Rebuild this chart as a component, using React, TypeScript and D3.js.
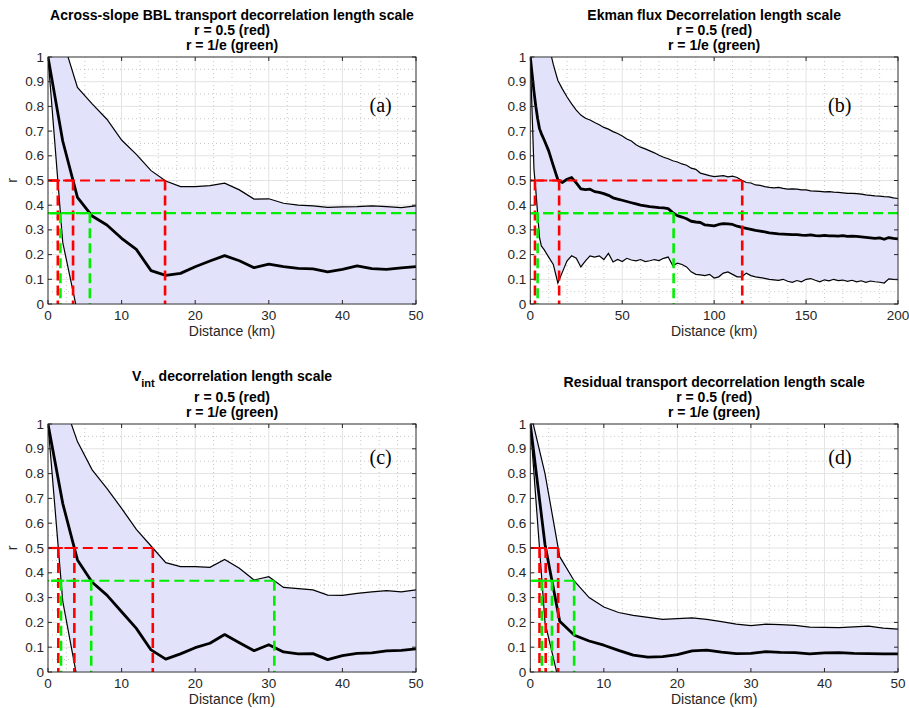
import React from "react";
import * as d3 from "d3";

const SANS = "'Liberation Sans', Arial, Helvetica, sans-serif";
const SERIF = "'Liberation Serif', 'Times New Roman', serif";

// ---- Panel (a): across-slope BBL transport, 2 km lag steps ----
const distA = [0, 2, 4, 6, 8, 10, 12, 14, 16, 18, 20, 22, 24, 26, 28, 30, 32, 34, 36, 38, 40, 42, 44, 46, 48, 50];
const meanA = [1.0, 0.66, 0.432, 0.356, 0.32, 0.266, 0.221, 0.135, 0.116, 0.124, 0.151, 0.174, 0.196, 0.175, 0.147, 0.161, 0.151, 0.144, 0.142, 0.13, 0.14, 0.154, 0.143, 0.14, 0.146, 0.151];
const upperA = [1.4, 1.07, 0.877, 0.81, 0.748, 0.664, 0.606, 0.54, 0.498, 0.475, 0.475, 0.479, 0.489, 0.462, 0.425, 0.426, 0.408, 0.4, 0.397, 0.391, 0.393, 0.394, 0.397, 0.394, 0.39, 0.397];
// lower bound falls below r = 0 after 4 km
const lowerA = [1.0, 0.25, -0.034];

// ---- Panel (b): Ekman flux ----
const distB = [0, 1, 2, 3, 4, 5, 6, 7.5, 10, 12.5, 15, 17.5, 20, 22.5, 25, 27.5, 30, 32.5, 35, 37.5, 40, 42.5, 45, 47.5, 50, 52.5, 55, 57.5, 60, 62.5, 65, 67.5, 70, 72.5, 75, 77.5, 80, 82.5, 85, 87.5, 90, 92.5, 95, 97.5, 100, 102.5, 105, 107.5, 110, 112.5, 115, 117.5, 120, 122.5, 125, 127.5, 130, 132.5, 135, 137.5, 140, 142.5, 145, 147.5, 150, 152.5, 155, 157.5, 160, 162.5, 165, 167.5, 170, 172.5, 175, 177.5, 180, 182.5, 185, 187.5, 190, 192.5, 195, 197.5, 200];
const meanB = [1.0, 0.93, 0.86, 0.8, 0.75, 0.71, 0.69, 0.665, 0.62, 0.56, 0.503, 0.492, 0.505, 0.512, 0.49, 0.466, 0.463, 0.465, 0.455, 0.452, 0.447, 0.44, 0.43, 0.425, 0.42, 0.415, 0.41, 0.405, 0.4, 0.397, 0.394, 0.392, 0.39, 0.389, 0.386, 0.37, 0.358, 0.352, 0.345, 0.335, 0.332, 0.33, 0.32, 0.318, 0.316, 0.322, 0.325, 0.324, 0.322, 0.315, 0.31, 0.306, 0.302, 0.298, 0.295, 0.292, 0.288, 0.286, 0.284, 0.283, 0.282, 0.281, 0.281, 0.279, 0.278, 0.28, 0.277, 0.276, 0.278, 0.276, 0.276, 0.275, 0.277, 0.274, 0.275, 0.274, 0.272, 0.27, 0.268, 0.266, 0.268, 0.262, 0.269, 0.266, 0.264];
const upperB = [1.5, 1.45, 1.4, 1.35, 1.3, 1.25, 1.2, 1.14, 1.05, 0.97, 0.905, 0.87, 0.838, 0.81, 0.785, 0.765, 0.752, 0.745, 0.735, 0.726, 0.715, 0.708, 0.698, 0.69, 0.68, 0.668, 0.66, 0.645, 0.635, 0.628, 0.62, 0.612, 0.602, 0.594, 0.588, 0.58, 0.575, 0.567, 0.562, 0.55, 0.545, 0.53, 0.525, 0.52, 0.516, 0.518, 0.52, 0.515, 0.518, 0.512, 0.501, 0.492, 0.49, 0.482, 0.48, 0.475, 0.472, 0.47, 0.472, 0.468, 0.465, 0.466, 0.465, 0.462, 0.462, 0.458, 0.457, 0.456, 0.454, 0.455, 0.453, 0.452, 0.45, 0.448, 0.448, 0.447, 0.445, 0.442, 0.44, 0.438, 0.437, 0.435, 0.434, 0.43, 0.427];
const lowerB = [1.0, 0.77, 0.545, 0.46, 0.365, 0.27, 0.235, 0.22, 0.19, 0.16, 0.085, 0.13, 0.175, 0.195, 0.185, 0.15, 0.175, 0.195, 0.19, 0.195, 0.18, 0.205, 0.17, 0.18, 0.172, 0.185, 0.178, 0.175, 0.18, 0.172, 0.175, 0.18, 0.176, 0.185, 0.19, 0.155, 0.165, 0.16, 0.15, 0.13, 0.12, 0.118, 0.115, 0.12, 0.105, 0.11, 0.125, 0.13, 0.12, 0.11, 0.11, 0.125, 0.115, 0.11, 0.107, 0.104, 0.1, 0.098, 0.096, 0.1, 0.092, 0.088, 0.095, 0.09, 0.1, 0.103, 0.096, 0.09, 0.098, 0.094, 0.1, 0.095, 0.097, 0.092, 0.096, 0.09, 0.094, 0.088, 0.093, 0.09, 0.088, 0.085, 0.102, 0.1, 0.099];

// ---- Panel (c): V_int ----
const distC = [0, 2, 4, 6, 8, 10, 12, 14, 16, 18, 20, 22, 24, 26, 28, 30, 32, 34, 36, 38, 40, 42, 44, 46, 48, 50];
const meanC = [1.0, 0.68, 0.452, 0.362, 0.31, 0.243, 0.176, 0.089, 0.052, 0.073, 0.098, 0.116, 0.151, 0.118, 0.086, 0.11, 0.081, 0.073, 0.074, 0.05, 0.066, 0.075, 0.077, 0.085, 0.087, 0.093];
const upperC = [1.4, 1.1, 0.929, 0.815, 0.74, 0.66, 0.575, 0.508, 0.441, 0.425, 0.425, 0.422, 0.454, 0.418, 0.371, 0.384, 0.341, 0.336, 0.331, 0.31, 0.309, 0.317, 0.323, 0.328, 0.323, 0.331];
const lowerC = [1.0, 0.286, -0.032];

// ---- Panel (d): residual transport ----
const distD = [0, 2, 4, 6, 8, 10, 12, 14, 16, 18, 20, 22, 24, 26, 28, 30, 32, 34, 36, 38, 40, 42, 44, 46, 48, 50];
const meanD = [1.0, 0.514, 0.205, 0.148, 0.125, 0.108, 0.087, 0.068, 0.06, 0.062, 0.07, 0.085, 0.088, 0.08, 0.074, 0.075, 0.082, 0.079, 0.078, 0.073, 0.077, 0.078, 0.075, 0.074, 0.073, 0.073];
const upperD = [1.05, 0.8, 0.465, 0.366, 0.3, 0.262, 0.24, 0.228, 0.22, 0.212, 0.215, 0.218, 0.212, 0.203, 0.193, 0.187, 0.193, 0.191, 0.188, 0.181, 0.18, 0.179, 0.182, 0.185, 0.177, 0.173];
const lowerD = [1.0, 0.2, -0.053];

// tick values
const yTicks = [0, 0.1, 0.2, 0.3, 0.4, 0.5, 0.6, 0.7, 0.8, 0.9, 1];
const xTicks50 = [0, 10, 20, 30, 40, 50];
const xTicks200 = [0, 50, 100, 150, 200];

// correlation thresholds
const thresholds = [
  { r: 0.5, color: "#ff0000" },
  { r: 1 / Math.E, color: "#00ee00" },
];

function firstCrossing(xs: number[], ys: number[], level: number): number | null {
  for (let i = 1; i < ys.length; i++) {
    if (ys[i - 1] >= level && ys[i] < level) {
      return xs[i - 1] + ((xs[i] - xs[i - 1]) * (ys[i - 1] - level)) / (ys[i - 1] - ys[i]);
    }
  }
  return null;
}

type PanelProps = {
  id: string;
  left: number;
  top: number;
  width: number;
  height: number;
  title: React.ReactNode[];
  titleY: number[];
  dist: number[];
  mean: number[];
  upper: number[];
  lower: number[];
  xMax: number;
  xTicks: number[];
  xMinorStep: number;
  tag: string;
  tagAt: [number, number];
  showYLabel: boolean;
};

function Panel(p: PanelProps) {
  const x = d3.scaleLinear().domain([0, p.xMax]).range([0, p.width]);
  const y = d3.scaleLinear().domain([0, 1]).range([p.height, 0]);
  const idx = d3.range(p.dist.length);

  const band = d3
    .area<number>()
    .x((i) => x(p.dist[i]))
    .y0((i) => y(i < p.lower.length ? p.lower[i] : 0))
    .y1((i) => y(p.upper[i]));
  const curve = (vals: number[]) =>
    d3.line<number>().x((i) => x(p.dist[i])).y((i) => y(vals[i]))(d3.range(vals.length)) || "";

  const xMinor = d3.range(0, p.xMax + 1e-9, p.xMinorStep).filter((v) => !p.xTicks.some((t) => Math.abs(t - v) < 1e-9));
  const yMinor = d3.range(0.05, 1, 0.1);
  const tickLen = 4;
  const axisCol = "#262626";

  const refLines: React.ReactNode[] = [];
  thresholds.forEach((t, ti) => {
    [p.lower, p.mean, p.upper].forEach((s, si) => {
      const c = firstCrossing(p.dist, s, t.r);
      const xEnd = c === null ? p.xMax : c;
      refLines.push(
        <path
          key={`h${ti}${si}`}
          d={`M${x(xEnd)},${y(t.r)}L${x(0)},${y(t.r)}`}
          stroke={t.color}
          strokeWidth={2.2}
          strokeDasharray="10 5"
          fill="none"
        />
      );
      if (c !== null) {
        refLines.push(
          <path
            key={`v${ti}${si}`}
            d={`M${x(c)},${y(t.r)}L${x(c)},${y(0)}`}
            stroke={t.color}
            strokeWidth={2.6}
            strokeDasharray="10 5"
            fill="none"
          />
        );
      }
    });
  });

  return (
    <g transform={`translate(${p.left},${p.top})`}>
      <defs>
        <clipPath id={`clip-${p.id}`}>
          <rect x={0} y={0} width={p.width} height={p.height} />
        </clipPath>
      </defs>
      <rect x={0} y={0} width={p.width} height={p.height} fill="#ffffff" />
      {/* minor grid */}
      {xMinor.map((v) => (
        <line key={`xm${v}`} x1={x(v)} x2={x(v)} y1={0} y2={p.height} stroke="#b8b8b8" strokeWidth={0.8} strokeDasharray="1 3" />
      ))}
      {yMinor.map((v) => (
        <line key={`ym${v}`} x1={0} x2={p.width} y1={y(v)} y2={y(v)} stroke="#b8b8b8" strokeWidth={0.8} strokeDasharray="1 3" />
      ))}
      {/* major grid */}
      {p.xTicks.map((v) => (
        <line key={`xg${v}`} x1={x(v)} x2={x(v)} y1={0} y2={p.height} stroke="#e3e3e3" strokeWidth={1} />
      ))}
      {yTicks.map((v) => (
        <line key={`yg${v}`} x1={0} x2={p.width} y1={y(v)} y2={y(v)} stroke="#e3e3e3" strokeWidth={1} />
      ))}
      <g clipPath={`url(#clip-${p.id})`}>
        <path d={band(idx) || ""} fill="#e2e2fb" stroke="none" />
        <path d={curve(p.upper)} fill="none" stroke="#000" strokeWidth={1.2} />
        <path d={curve(p.lower)} fill="none" stroke="#000" strokeWidth={1.2} />
        <path d={curve(p.mean)} fill="none" stroke="#000" strokeWidth={2.8} strokeLinejoin="round" />
        {refLines}
      </g>
      {/* box and ticks */}
      <rect x={0} y={0} width={p.width} height={p.height} fill="none" stroke={axisCol} strokeWidth={0.9} />
      {p.xTicks.map((v) => (
        <g key={`xt${v}`}>
          <line x1={x(v)} x2={x(v)} y1={p.height} y2={p.height - tickLen} stroke={axisCol} />
          <line x1={x(v)} x2={x(v)} y1={0} y2={tickLen} stroke={axisCol} />
          <text x={x(v)} y={p.height + 16} textAnchor="middle" fontSize={13.5} fill={axisCol} fontFamily={SANS}>
            {v}
          </text>
        </g>
      ))}
      {yTicks.map((v) => (
        <g key={`yt${v}`}>
          <line x1={0} x2={tickLen} y1={y(v)} y2={y(v)} stroke={axisCol} />
          <line x1={p.width} x2={p.width - tickLen} y1={y(v)} y2={y(v)} stroke={axisCol} />
          <text x={-4} y={y(v) + 4.5} textAnchor="end" fontSize={13.5} fill={axisCol} fontFamily={SANS}>
            {d3.format("~g")(v)}
          </text>
        </g>
      ))}
      <text x={p.width / 2} y={p.height + 32} textAnchor="middle" fontSize={14} fill={axisCol} fontFamily={SANS}>
        Distance (km)
      </text>
      {p.showYLabel && (
        <text transform={`translate(${-31},${p.height / 2}) rotate(-90)`} textAnchor="middle" fontSize={14} fill={axisCol} fontFamily={SANS}>
          r
        </text>
      )}
      {p.title.map((line, i) => (
        <text key={`t${i}`} x={p.width / 2} y={p.titleY[i]} textAnchor="middle" fontSize={14} fontWeight="bold" fill="#000" fontFamily={SANS}>
          {line}
        </text>
      ))}
      <text x={x(p.tagAt[0])} y={y(p.tagAt[1]) + 6} textAnchor="middle" fontSize={20} fill="#000" fontFamily={SERIF}>
        {p.tag}
      </text>
    </g>
  );
}

export default function App() {
  const sub = ["r = 0.5 (red)", "r = 1/e (green)"];
  return (
    <svg width={909} height={708} style={{ position: "absolute", left: 0, top: 0, background: "#fff" }}>
      <Panel
        id="a"
        left={48}
        top={57}
        width={368}
        height={247}
        title={["Across-slope BBL transport decorrelation length scale", ...sub]}
        titleY={[-37, -22, -7]}
        dist={distA}
        mean={meanA}
        upper={upperA}
        lower={lowerA}
        xMax={50}
        xTicks={xTicks50}
        xMinorStep={2.5}
        tag="(a)"
        tagAt={[45.2, 0.8]}
        showYLabel={true}
      />
      <Panel
        id="b"
        left={530.3}
        top={57}
        width={367.7}
        height={247}
        title={["Ekman flux Decorrelation length scale", ...sub]}
        titleY={[-37, -22, -7]}
        dist={distB}
        mean={meanB}
        upper={upperB}
        lower={lowerB}
        xMax={200}
        xTicks={xTicks200}
        xMinorStep={10}
        tag="(b)"
        tagAt={[168.3, 0.8]}
        showYLabel={false}
      />
      <Panel
        id="c"
        left={48}
        top={424}
        width={368}
        height={248}
        title={[
          <>
            <tspan>V</tspan>
            <tspan dy={6} fontSize={11}>int</tspan>
            <tspan dy={-6}> decorrelation length scale</tspan>
          </>,
          ...sub,
        ]}
        titleY={[-43, -22, -7]}
        dist={distC}
        mean={meanC}
        upper={upperC}
        lower={lowerC}
        xMax={50}
        xTicks={xTicks50}
        xMinorStep={2.5}
        tag="(c)"
        tagAt={[45.2, 0.863]}
        showYLabel={true}
      />
      <Panel
        id="d"
        left={530.3}
        top={424}
        width={367.7}
        height={248}
        title={["Residual transport decorrelation length scale", ...sub]}
        titleY={[-37, -22, -7]}
        dist={distD}
        mean={meanD}
        upper={upperD}
        lower={lowerD}
        xMax={50}
        xTicks={xTicks50}
        xMinorStep={2.5}
        tag="(d)"
        tagAt={[42.1, 0.863]}
        showYLabel={false}
      />
    </svg>
  );
}
